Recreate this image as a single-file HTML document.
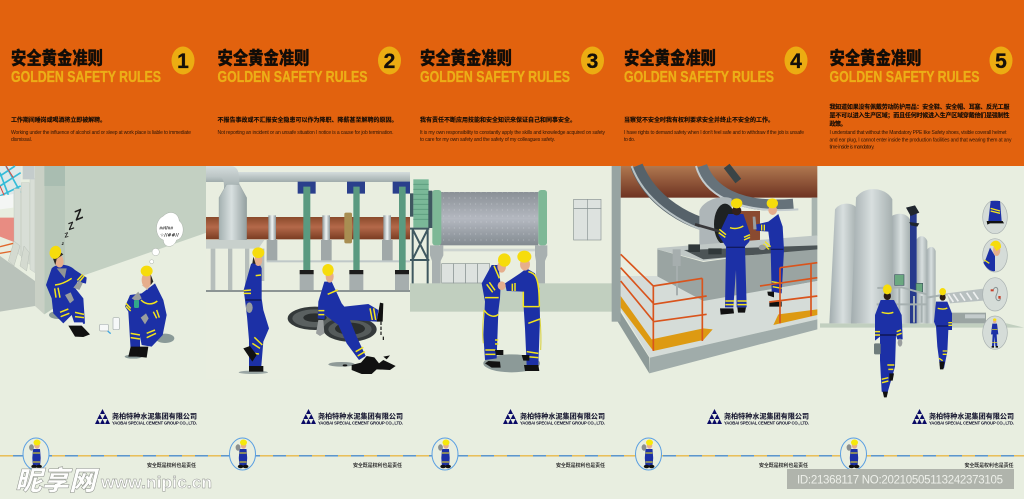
<!DOCTYPE html>
<html><head><meta charset="utf-8"><title>安全黄金准则 Golden Safety Rules</title>
<style>
html,body{margin:0;padding:0;width:1024px;height:499px;overflow:hidden;background:#e8eee0}
svg{display:block}
.t{font-family:"Liberation Sans","Noto Sans CJK SC",sans-serif;font-weight:900;font-size:18px;fill:#120d08;stroke:#120d08;stroke-width:.25}
.g{font-family:"Liberation Sans",sans-serif;font-weight:700;font-size:16px;fill:#ecae17;stroke:#ecae17;stroke-width:.35}
.n{font-family:"Liberation Sans",sans-serif;font-weight:700;font-size:21px;fill:#15100a;text-anchor:middle;stroke:#15100a;stroke-width:.3}
.c{font-family:"Liberation Sans","Noto Sans CJK SC",sans-serif;font-weight:700;font-size:6px;fill:#140c06;stroke:#140c06;stroke-width:.12}
.e{font-family:"Liberation Sans",sans-serif;font-size:5px;fill:#2a1408}
.l{font-family:"Liberation Sans","Noto Sans CJK SC",sans-serif;font-weight:700;font-size:7px;fill:#15152e;stroke:#15152e;stroke-width:.1}
.l2{font-family:"Liberation Sans",sans-serif;font-weight:700;font-size:4.3px;fill:#15152e}
.s{font-family:"Liberation Sans","Noto Sans CJK SC",sans-serif;font-size:5px;fill:#333;font-weight:700}
.blue{fill:#1c30a6}.y{stroke:#f3e41c;fill:none}.hel{fill:#f6dc0c}.skin{fill:#e6ae8c}.blk{fill:#111}.glv{fill:#9a9e9e}
</style></head><body>
<svg width="1024" height="499" viewBox="0 0 1024 499" xmlns="http://www.w3.org/2000/svg">
<defs>
<linearGradient id="pipeB" x1="0" y1="0" x2="0" y2="1"><stop offset="0" stop-color="#8a4a2c"/><stop offset=".45" stop-color="#b4694a"/><stop offset="1" stop-color="#7a3c22"/></linearGradient>
<linearGradient id="pipeG" x1="0" y1="0" x2="0" y2="1"><stop offset="0" stop-color="#d4dcdc"/><stop offset="1" stop-color="#a0acac"/></linearGradient>
<linearGradient id="hood" x1="0" y1="0" x2="1" y2="0"><stop offset="0" stop-color="#a4b0b0"/><stop offset=".45" stop-color="#d8e0e0"/><stop offset="1" stop-color="#94a0a0"/></linearGradient>
<linearGradient id="ring" x1="0" y1="0" x2="1" y2="0"><stop offset="0" stop-color="#8c9698"/><stop offset=".5" stop-color="#f0f4f4"/><stop offset="1" stop-color="#8c9698"/></linearGradient>
<linearGradient id="mill" x1="0" y1="0" x2="0" y2="1"><stop offset="0" stop-color="#8a9096"/><stop offset=".5" stop-color="#b4b8c0"/><stop offset="1" stop-color="#828a90"/></linearGradient>
<linearGradient id="kiln" x1="0" y1="0" x2="0" y2="1"><stop offset="0" stop-color="#b07850"/><stop offset="1" stop-color="#6e3322"/></linearGradient>
<linearGradient id="silo" x1="0" y1="0" x2="1" y2="0"><stop offset="0" stop-color="#a2acae"/><stop offset=".5" stop-color="#d8dfdf"/><stop offset="1" stop-color="#a6b0b0"/></linearGradient>
<pattern id="dots" width="16" height="18" patternUnits="userSpaceOnUse"><circle cx="5" cy="6" r="1.2" fill="#dfe3e6"/></pattern>
<g id="mini">
<path d="M-3.5-1 L3.5-1 L4.2 8 L3.6 15.5 H-3.6 L-4.2 8Z" fill="#1c30a6"/>
<ellipse cx="-5" cy="-2.5" rx="2.4" ry="3.2" fill="#8a8e8e"/>
<ellipse cx=".5" cy="-4.5" rx="2.8" ry="3.2" fill="#e6ae8c"/>
<ellipse cx=".5" cy="-7.5" rx="3.5" ry="3" fill="#f6e80c"/>
<path d="M-3.5 3H3.5M-3.5 12H3.5" stroke="#f3e41c" stroke-width=".9"/>
<ellipse cx="-2.4" cy="16.5" rx="2.8" ry="1.7" fill="#111"/><ellipse cx="2.6" cy="16.5" rx="2.8" ry="1.7" fill="#111"/>
</g>
<g id="logo" fill="#0a0a66">
<path d="M7.5 0L10 5H5Z"/><path d="M4.8 5L7.3 10H2.3Z"/><path d="M10.2 5L12.7 10H7.7Z"/><path d="M2.5 10L5 15H0Z"/><path d="M7.5 10L10 15H5Z"/><path d="M12.5 10L15 15H10Z"/>
<path d="M7.5 3L9 5H6Z"/>
</g>
</defs>

<rect width="1024" height="499" fill="#e8eee0"/>
<rect width="1024" height="166" fill="#e2620e"/>

<!-- HEADERS -->
<text class="t" x="11" y="64.5" textLength="92" lengthAdjust="spacingAndGlyphs">安全黄金准则</text>
<text class="g" x="11" y="82" textLength="150" lengthAdjust="spacingAndGlyphs">GOLDEN SAFETY RULES</text>
<ellipse cx="183" cy="60.5" rx="11.5" ry="14" fill="#ecac12"/><text class="n" x="183" y="68">1</text>
<text class="c" x="11" y="122" textLength="95">工作期间睡岗或喝酒将立即被解聘。</text>
<text class="e" x="11" y="134" textLength="180">Working under the influence of alcohol and or sleep at work place is liable to immediate</text>
<text class="e" x="11" y="141" textLength="21">dismissal.</text>

<text class="t" x="217.5" y="64.5" textLength="92" lengthAdjust="spacingAndGlyphs">安全黄金准则</text>
<text class="g" x="217.5" y="82" textLength="150" lengthAdjust="spacingAndGlyphs">GOLDEN SAFETY RULES</text>
<ellipse cx="389.5" cy="60.5" rx="11.5" ry="14" fill="#ecac12"/><text class="n" x="389.5" y="68">2</text>
<text class="c" x="217.5" y="122" textLength="180">不报告事故或不汇报安全隐患可以作为降职、降薪甚至解聘的原因。</text>
<text class="e" x="217.5" y="134" textLength="176">Not reporting an incident or an unsafe situation I notice is a cause for job termination.</text>

<text class="t" x="420" y="64.5" textLength="92" lengthAdjust="spacingAndGlyphs">安全黄金准则</text>
<text class="g" x="420" y="82" textLength="150" lengthAdjust="spacingAndGlyphs">GOLDEN SAFETY RULES</text>
<ellipse cx="592.5" cy="60.5" rx="11.5" ry="14" fill="#ecac12"/><text class="n" x="592.5" y="68">3</text>
<text class="c" x="420" y="122" textLength="156">我有责任不断应用技能和安全知识来保证自己和同事安全。</text>
<text class="e" x="420" y="134" textLength="185">It is my own responsibility to constantly apply the skills and knowledge acquired on safety</text>
<text class="e" x="420" y="141" textLength="135">to care for my own safety and the safety of my colleagues safety.</text>

<text class="t" x="624" y="64.5" textLength="92" lengthAdjust="spacingAndGlyphs">安全黄金准则</text>
<text class="g" x="624" y="82" textLength="150" lengthAdjust="spacingAndGlyphs">GOLDEN SAFETY RULES</text>
<ellipse cx="796" cy="60.5" rx="11.5" ry="14" fill="#ecac12"/><text class="n" x="796" y="68">4</text>
<text class="c" x="624" y="122" textLength="150">当察觉不安全时我有权利要求安全并终止不安全的工作。</text>
<text class="e" x="624" y="134" textLength="180">I have rights to demand safety when I don't feel safe and to withdraw if the job is unsafe</text>
<text class="e" x="624" y="141" textLength="11">to do.</text>

<text class="t" x="829.5" y="64.5" textLength="92" lengthAdjust="spacingAndGlyphs">安全黄金准则</text>
<text class="g" x="829.5" y="82" textLength="150" lengthAdjust="spacingAndGlyphs">GOLDEN SAFETY RULES</text>
<ellipse cx="1001" cy="60.5" rx="11.5" ry="14" fill="#ecac12"/><text class="n" x="1001" y="68">5</text>
<text class="c" x="829.5" y="109" textLength="180">我知道如果没有佩戴劳动防护用品：安全鞋、安全帽、耳塞、反光工服</text>
<text class="c" x="829.5" y="117.5" textLength="180">是不可以进入生产区域；而且任何时候进入生产区域穿戴他们是强制性</text>
<text class="c" x="829.5" y="126" textLength="17">政策。</text>
<text class="e" x="829.5" y="134" textLength="177">I understand that without the Mandatory PPE like Safety shoes, visible coverall helmet</text>
<text class="e" x="829.5" y="141.5" textLength="182">and ear plug, I cannot enter inside the production facilities and that wearing them at any</text>
<text class="e" x="829.5" y="148.5" textLength="45">time inside is mandatory.</text>

<!-- PANEL 1 + 2 -->
<g transform="translate(0,166) scale(.33333)">
  <path d="M0 270L105 345V420L0 437Z" fill="#b9c2ba"/>
  <path d="M0 0H62V100H0Z" fill="#dfe8e8"/>
  <path d="M0 30L45 0M0 60L62 20M0 90L62 60M18 0L62 80M0 20L30 100" stroke="#35bcd8" stroke-width="5" fill="none"/>
  <path d="M18 0L40 35M0 60L22 110" stroke="#d84a40" stroke-width="3"/>
  <path d="M0 90L40 84V125L0 130Z" fill="#f4f6f4"/>
  <path d="M0 155H42V228L0 212Z" fill="#e88c82"/>
  <path d="M0 242L40 232M0 262L40 255" stroke="#e0682c" stroke-width="4"/>
  <path d="M42 68H62V270L42 250ZM64 50H88V295L64 275ZM90 38H105V320L90 310Z" fill="#d8ded6" stroke="#b8c0b8"/>
  <path d="M25 285L42 225L60 240L42 300ZM60 300L72 240L88 260L80 315Z" fill="#d4dad0" stroke="#a8b0a8"/>
  <rect x="68" y="0" width="36" height="40" fill="#c4cccc"/>
  <path d="M195 0H620V200L260 325L195 345Z" fill="#c3d0c2"/>
  <path d="M105 0H133V445L105 420Z" fill="#c9d0c5"/>
  <path d="M133 0H195V405L133 445Z" fill="#b8c7ba"/>
  <rect x="133" y="0" width="62" height="60" fill="#a9bdb1"/>

  <g font-family="Liberation Sans,sans-serif" font-weight="700" fill="#1c1c1c" font-style="italic">
    <text x="222" y="160" font-size="42" transform="rotate(-22 236 145)">Z</text>
    <text x="203" y="190" font-size="30" transform="rotate(-20 212 178)">Z</text>
    <text x="193" y="214" font-size="20" transform="rotate(-15 199 207)">Z</text>
    <text x="185" y="237" font-size="14">z</text>
  </g>
  <g fill="#fff" stroke="#a8b0a8" stroke-width="1.5">
    <circle cx="455" cy="287" r="6"/><circle cx="467" cy="258" r="11"/>
    <path d="M490 150C510 130 535 140 538 165C558 180 550 220 530 222C520 250 490 245 490 222C465 215 460 165 490 150Z"/>
  </g>
  <text x="478" y="190" font-family="Liberation Sans,DejaVu Sans,sans-serif" font-size="15" font-weight="700" fill="#222">##//##</text>
  <text x="480" y="212" font-family="DejaVu Sans,sans-serif" font-size="14" font-weight="700" fill="#222">☆//##//</text>

  <!-- PANEL 2 background -->
  <rect x="618" y="0" width="612" height="640" fill="#e9eee0"/>
  <rect x="618" y="18" width="612" height="30" fill="url(#pipeG)"/>
  <path d="M618 0H690C715 0 718 20 718 50V70H672V60C672 40 665 30 650 30H618Z" fill="url(#pipeG)"/>
  <rect x="618" y="153" width="612" height="67" fill="url(#pipeB)"/>
  <path d="M657 95L680 55H718L740 95V230H657Z" fill="url(#hood)" stroke="#8c9898"/>
  <path d="M618 222H793L775 248H618Z" fill="#c8d0cc"/>
  <path d="M632 248H646V375H632ZM684 248H697V375H684ZM735 248H748V375H735ZM775 248H793V345H775Z" fill="#b6bebb"/>
  <rect x="805" y="148" width="23" height="74" fill="url(#ring)"/>
  <rect x="967" y="148" width="23" height="74" fill="url(#ring)"/>
  <rect x="1150" y="148" width="23" height="74" fill="url(#ring)"/>
  <rect x="1033" y="140" width="23" height="92" rx="5" fill="#a88e52"/>
  <path d="M800 222H832V285H800ZM963 222H995V285H963ZM1146 222H1178V285H1146Z" fill="#a0a8a8"/>
  <rect x="800" y="283" width="430" height="6" fill="#bfc8c8"/>
  <path d="M893 47H947V83H893ZM1041 47H1095V83H1041ZM1178 47H1230V83H1178Z" fill="#2a3f8c"/>
  <path d="M910 62H931V312H910ZM1060 62H1079V312H1060ZM1197 62H1217V312H1197Z" fill="#5a9a80"/>
  <path d="M899 312H941V325H899ZM1048 312H1090V325H1048ZM1185 312H1227V325H1185Z" fill="#1c1c1c"/>
  <path d="M899 325H941V375H899ZM1048 325H1090V375H1048ZM1185 325H1227V375H1185Z" fill="#a6aeae"/>
  <rect x="618" y="372" width="612" height="6" fill="#8c9494"/>
  <ellipse cx="945" cy="457" rx="82" ry="35" fill="#34393a"/>
  <ellipse cx="945" cy="457" rx="68" ry="27" fill="#5a6060"/><ellipse cx="945" cy="455" rx="35" ry="13" fill="#2a2e2e"/>
  <ellipse cx="1050" cy="490" rx="80" ry="37" fill="#34393a"/>
  <ellipse cx="1050" cy="490" rx="65" ry="28" fill="#555b5b"/><ellipse cx="1050" cy="488" rx="45" ry="18" fill="#2a2e2e"/>
</g>

<!-- Workers A + B (crop coordinates) -->
<g transform="translate(40,235) scale(.33333)">
  <ellipse cx="55" cy="240" rx="28" ry="12" fill="#8a9a98"/>
  <path d="M35 100C50 85 85 85 105 105L140 128L138 146L112 140L106 160L130 190L135 266L105 270L95 240L70 265L40 235L35 190L18 150Z" class="blue"/>
  <path d="M45 150C65 148 80 140 95 130M112 136L128 118M120 138L133 122M44 160L48 188M54 158L60 188M60 232L85 222M62 245L88 235M105 232L132 238M105 245L132 248" class="y" stroke-width="4.5"/>
  <path d="M50 100L74 130L80 100Z" fill="#8f9494"/>
  <path d="M100 158L118 135L128 145L118 165Z" class="glv"/>
  <path d="M75 180L92 172L102 195L90 205Z" class="glv"/>
  <path d="M90 262H128L132 275H88Z" fill="#eef0ee"/>
  <path d="M85 272H125L150 298L130 306L105 305Z" class="blk"/>
  <ellipse cx="56" cy="76" rx="14" ry="22" class="skin" transform="rotate(-15 56 76)"/>
  <path d="M38 68L62 52L70 58L50 72L46 90Z" fill="#2a2622"/>
  <ellipse cx="46" cy="52" rx="17" ry="20" class="hel" transform="rotate(20 46 52)"/>

  <ellipse cx="375" cy="310" rx="28" ry="14" fill="#8a9a98"/>
  <ellipse cx="280" cy="365" rx="26" ry="6" fill="#8a9a98"/>
  <path d="M305 175L345 145L370 195L380 240L368 300L335 335L305 330L300 305L300 345L272 345L265 230L255 215L270 180Z" class="blue"/>
  <path d="M303 195C320 212 340 208 352 198M258 205L272 220M258 214L272 228M340 230L350 250M350 225L358 248M272 295L300 300M272 308L300 312M320 295L345 285M320 308L348 295" class="y" stroke-width="4.5"/>
  <path d="M275 190L295 170L305 190L290 200Z" class="glv"/>
  <rect x="282" y="195" width="15" height="24" rx="4" fill="#32a88a"/>
  <path d="M302 248L318 235L326 250L315 268Z" class="glv"/>
  <path d="M272 335H300L295 365H265Z" class="blk"/><path d="M298 335H325L320 368L292 365Z" class="blk"/>
  <path d="M305 150L322 165L335 145Z" fill="#d8c0a8"/>
  <ellipse cx="320" cy="135" rx="15" ry="23" class="skin"/>
  <path d="M332 118L340 140L332 150Z" fill="#2a2622"/>
  <ellipse cx="320" cy="108" rx="18" ry="16" class="hel"/>
  <!-- cups -->
  <rect x="219" y="248" width="19" height="36" rx="3" fill="#f6f8f8" stroke="#a8b0b0" stroke-width="2"/>
  <rect x="179" y="268" width="26" height="20" rx="3" fill="#f6f8f8" stroke="#a8b0b0" stroke-width="2"/>
  <path d="M203 288L212 296" stroke="#3fa6e0" stroke-width="4"/>
</g>

<!-- Workers C + D -->
<g transform="translate(235,240) scale(.33333)">
  <ellipse cx="55" cy="397" rx="44" ry="5" fill="#9aa6a4"/>
  <path d="M48 72C60 62 75 70 80 85L80 175L85 210L102 265L85 305L78 390H42L42 300L36 230L30 180L26 150Z" class="blue"/>
  <path d="M62 107L78 105M26 152L48 150M26 160L48 160M52 310L75 325M58 292L82 315M58 340L72 342" class="y" stroke-width="4.5"/>
  <path d="M32 180H78" stroke="#111a60" stroke-width="5"/>
  <ellipse cx="43" cy="203" rx="10" ry="16" class="glv"/>
  <path d="M25 325L45 318L65 345L52 365Z" class="blk"/>
  <path d="M42 378H85V395H42Z" class="blk"/>
  <ellipse cx="70" cy="60" rx="12" ry="18" class="skin"/>
  <path d="M55 50L62 72L52 70Z" fill="#2a2622"/>
  <ellipse cx="70" cy="38" rx="18" ry="16" class="hel"/>

  <ellipse cx="320" cy="373" rx="40" ry="7" fill="#8f9a98"/>
  <path d="M268 125L290 125L320 190L328 200L400 192L430 210L425 245L345 240L365 290L392 348L372 360L335 310L310 255L270 225L268 238L248 235L250 185Z" class="blue"/>
  <path d="M278 163L308 150M250 212H268M250 224H268M405 205L412 240M416 205L422 240M362 335L385 322M368 348L390 335" class="y" stroke-width="4.5"/>
  <path d="M425 245L435 188L445 190L443 245Z" class="blk"/>
  <path d="M438 245V285M445 290V305" stroke="#111" stroke-width="3.5" stroke-dasharray="10 5"/>
  <path d="M250 240H265L268 280L255 288L243 280Z" class="glv"/>
  <ellipse cx="284" cy="110" rx="12" ry="18" class="skin"/>
  <ellipse cx="279" cy="90" rx="17" ry="18" class="hel"/>
  <path d="M350 375L378 368L395 348L418 352L432 370L445 360L482 378L465 390L425 388L410 402H380L350 390Z" class="blk"/>
  <path d="M445 350L465 346L455 358Z" class="blk"/><ellipse cx="330" cy="376" rx="7" ry="3" class="blk"/>
</g>

<!-- PANEL 3 + 4 -->
<g transform="translate(410,166) scale(.33333)">
  <rect x="0" y="0" width="605" height="352" fill="#e9eee0"/>
  <rect x="0" y="352" width="606" height="85" fill="#c1cfbf"/>
  <rect x="90" y="78" width="295" height="160" fill="url(#mill)"/>
  <rect x="90" y="78" width="295" height="160" fill="url(#dots)"/>
  <rect x="67" y="72" width="27" height="166" rx="8" fill="#7eb896"/>
  <rect x="385" y="72" width="26" height="166" rx="8" fill="#7eb896"/>
  <rect x="10" y="40" width="46" height="145" fill="#7ab898"/>
  <path d="M10 55H56M10 70H56M10 85H56M10 100H56M10 115H56M10 130H56M10 145H56M10 160H56" stroke="#5f9f80" stroke-width="3"/>
  <rect x="55" y="74" width="12" height="112" fill="#3f5860"/>
  <rect x="0" y="82" width="10" height="70" fill="#3f5860"/>
  <path d="M0 188H58M0 282H58M8 188V352M53 188V352M8 190L53 280M53 190L8 280" stroke="#3f5860" stroke-width="6" fill="none"/>
  <path d="M60 238H100V268L92 285V352H66V285L60 268ZM375 238H412V268L405 285V352H378V285L375 268Z" fill="#a8b0b0"/>
  <rect x="100" y="248" width="275" height="8" fill="#cdd4d0"/>
  <g fill="#dde2df" stroke="#8a9494" stroke-width="2">
    <rect x="95" y="293" width="36" height="58"/><rect x="131" y="293" width="36" height="58"/><rect x="167" y="293" width="36" height="58"/><rect x="203" y="293" width="36" height="58"/>
    <rect x="491" y="100" width="41" height="28"/><rect x="532" y="100" width="41" height="28"/><rect x="491" y="128" width="41" height="94"/><rect x="532" y="128" width="41" height="94"/>
  </g>

  <!-- PANEL 4 -->
  <rect x="632" y="95" width="590" height="240" fill="#e9eee0"/>
  <rect x="632" y="0" width="590" height="95" fill="url(#kiln)"/>
  <path d="M965 135H1050V245H965Z" fill="#8a4a30"/>
  <path d="M680 0C720 100 830 180 965 192" stroke="#56626a" stroke-width="38" fill="none"/>
  <path d="M665 0C705 110 830 195 965 212" stroke="#b8c2c4" stroke-width="6" fill="none"/>
  <path d="M875 0C900 70 980 130 1150 115" stroke="#66727a" stroke-width="34" fill="none"/>
  <path d="M858 0C880 80 975 145 1165 130" stroke="#c4ccce" stroke-width="6" fill="none"/>
  <path d="M950 0L985 45" stroke="#3a4446" stroke-width="22"/>
  <path d="M868 245V135C880 100 940 85 965 98L968 245Z" fill="#aeb6b8"/>
  <ellipse cx="945" cy="175" rx="33" ry="62" fill="#1e2222"/>
  <rect x="1205" y="95" width="17" height="115" fill="#a8b4b0"/>
  <path d="M742 246L1222 208V240L880 285L742 250Z" fill="#c0c8c6"/>
  <path d="M742 250L880 288L1222 240V345L880 408L742 345Z" fill="#9aa4a2"/>
  <path d="M822 252L1222 238V250L880 280Z" fill="#4c5456"/>
  <path d="M835 235H870V258H835ZM895 247H935V265H895Z" fill="#30383a"/>
  <path d="M855 175L960 205" stroke="#39383a" stroke-width="8"/>
  <path d="M632 330H740L880 405L1222 345V460L720 575L632 430Z" fill="#d5dcd8"/>
  <path d="M632 390L725 520L880 487L908 490L880 522L730 555L632 425Z" fill="#dd9a12"/>
  <path d="M1090 477L1105 445L1222 430V447Z" fill="#dd9a12"/>
  <path d="M720 575L1222 460V490L718 622Z" fill="#a0acaa"/>
  <path d="M620 420L718 575V622L620 462Z" fill="#8d9a98"/>
  <rect x="605" y="0" width="27" height="467" fill="#97a4a2"/>
  <rect x="788" y="250" width="24" height="50" fill="#a6aeae"/><rect x="798" y="300" width="6" height="88" fill="#a6aeae"/>
</g>

<!-- Harness workers -->
<g transform="translate(470,245) scale(.33333)">
  <ellipse cx="125" cy="355" rx="85" ry="27" fill="#8c9a98"/>
  <path d="M65 60L85 60L92 120L90 160L85 200L80 340L45 345L40 270L45 170L35 115Z" class="blue"/>
  <path d="M72 62L88 100M50 118L68 142M58 112L75 136M45 158H86M42 195C55 215 75 218 85 208M46 315H76M46 328H76M75 285H85M75 297H85" class="y" stroke-width="4.5"/>
  <path d="M42 195C38 235 36 265 40 295" stroke="#d8d038" stroke-width="3" fill="none"/>
  <path d="M55 348L90 350L92 368L65 368L45 355Z" class="blk"/>
  <path d="M75 315H100V330H78Z" class="blk"/>
  <ellipse cx="95" cy="65" rx="13" ry="18" class="skin"/>
  <ellipse cx="103" cy="45" rx="19" ry="20" class="hel"/>
  <path d="M170 70L195 85L208 130L210 220L205 362H170L165 250L158 140L110 138L105 115L150 85Z" class="blue"/>
  <path d="M127 116V138M135 114V138M175 80C198 85 208 100 208 185M160 140V185H208M175 235L210 222M170 320L205 325M170 335L205 338" class="y" stroke-width="4.5"/>
  <path d="M210 220C213 255 214 280 212 315" stroke="#d8d038" stroke-width="3" fill="none"/>
  <ellipse cx="95" cy="122" rx="12" ry="13" class="skin"/>
  <path d="M162 360H205L208 378H165Z" class="blk"/><path d="M155 330H178V347H160Z" class="blk"/>
  <ellipse cx="165" cy="58" rx="15" ry="19" class="skin"/>
  <ellipse cx="163" cy="35" rx="21" ry="18" class="hel"/>
</g>

<!-- Panel 4 workers + rails -->
<g transform="translate(700,190) scale(.33333)">
  <path d="M85 72L130 72L150 130L148 155L135 170L140 352H110L108 240L100 352H75L78 170L55 135Z" class="blue"/>
  <path d="M90 113C105 118 118 115 130 108M58 118L78 134M56 128L76 142M132 142L150 134M132 150L150 142M76 333H102M76 344H102M112 333H140M112 344H140" class="y" stroke-width="4.5"/>
  <path d="M80 172H134" stroke="#111a60" stroke-width="4"/>
  <path d="M60 355H100L102 370L62 374ZM112 352H138L135 368H114Z" class="blk"/>
  <ellipse cx="110" cy="62" rx="14" ry="14" fill="#33211a"/>
  <ellipse cx="110" cy="40" rx="17" ry="15" class="hel"/>
  <path d="M205 95L235 72L248 110L252 180L245 310L215 305L212 180L205 125L168 122L162 105Z" class="blue"/>
  <path d="M185 104V122M193 104V122M195 155L212 170M190 162L207 178M215 275L245 280M218 290L245 295" class="y" stroke-width="4"/>
  <path d="M212 178H250" stroke="#111a60" stroke-width="4"/>
  <path d="M158 80L166 80L170 118H160Z" class="glv"/>
  <ellipse cx="187" cy="172" rx="11" ry="8" class="glv"/>
  <path d="M202 305H222V322L204 316ZM208 335H245V350H208Z" class="blk"/>
  <ellipse cx="218" cy="60" rx="13" ry="15" class="skin"/>
  <ellipse cx="217" cy="40" rx="17" ry="15" class="hel"/>
</g>
<g transform="translate(410,166) scale(.33333)">
  <g stroke="#d9541c" stroke-width="5" fill="none">
    <path d="M632 265L730 360M632 305L730 412M632 345L730 465"/>
    <path d="M730 360V555M877 337V525M730 360L877 337M730 415L890 390M730 467L890 445"/>
    <path d="M1110 305L1222 290M1050 360L1222 335M1078 408L1222 390M1110 305V472M1203 295V450"/>
  </g>
</g>

<!-- PANEL 5 -->
<g transform="translate(820,166) scale(.33333)">
  <path d="M0 472H560L612 485H0Z" fill="#c1cfbf"/>
  <path d="M28 472L45 130C60 108 95 108 110 125V472Z" fill="url(#silo)"/>
  <path d="M215 472V150C235 138 260 142 270 160V472Z" fill="url(#silo)"/>
  <path d="M290 472V220C300 205 315 208 322 225V472Z" fill="url(#silo)"/>
  <path d="M320 472V252C330 238 342 240 347 255V472Z" fill="url(#silo)"/>
  <path d="M93 472L108 95C130 60 195 60 217 100V472Z" fill="url(#silo)"/>
  <rect x="270" y="140" width="20" height="332" fill="#26398c"/>
  <path d="M258 125L285 118L298 140L272 150ZM268 168L298 172L292 182L272 178Z" fill="#20262e"/>
  <rect x="224" y="326" width="28" height="32" fill="#6aa880" stroke="#3f5860" stroke-width="2"/>
  <rect x="288" y="352" width="20" height="26" fill="#6aa880" stroke="#3f5860" stroke-width="2"/>
  <g stroke="#a6b0b0" stroke-width="6" fill="none">
    <path d="M172 366L245 364L320 385M238 364V470M170 415H320M282 390V470M305 390V470M320 395L380 385"/>
  </g>
  <path d="M380 382L490 368V404L390 412Z" fill="#b8c0c0"/>
  <path d="M385 385L400 408M400 384L415 406M420 382L435 404M440 380L455 402M460 378L475 400" stroke="#eef0f0" stroke-width="5"/>
  <rect x="395" y="440" width="103" height="32" fill="#9aa4a2"/>
  <rect x="435" y="445" width="60" height="12" fill="#c4cccc"/>
  <g fill="#d5dcd8" stroke="#a8b0b0" stroke-width="2">
    <ellipse cx="525" cy="153" rx="37" ry="50"/><ellipse cx="525" cy="268" rx="37" ry="50"/><ellipse cx="525" cy="385" rx="37" ry="50"/><ellipse cx="525" cy="500" rx="37" ry="50"/>
  </g>
  <path d="M512 105H540L545 165H505Z" class="blue"/>
  <path d="M512 127L540 135M512 135L540 142" class="y" stroke-width="4"/>
  <path d="M500 165H548L552 172H510L502 176Z" class="blk"/>
  <path d="M495 285L510 245L525 270L525 315C515 318 500 310 490 290Z" class="blue"/>
  <path d="M493 282L508 292" class="y" stroke-width="4"/>
  <ellipse cx="530" cy="252" rx="11" ry="18" class="skin"/>
  <path d="M510 238C520 215 545 222 543 245L530 255L520 240Z" class="hel"/>
  <path d="M518 375C525 355 540 365 530 385C520 405 545 410 540 395" stroke="#8a9494" stroke-width="3" fill="none"/>
  <rect x="512" y="370" width="9" height="6" fill="#c8402a"/><rect x="535" y="390" width="7" height="8" fill="#c8402a"/>
  <path d="M517 473H531L535 505H530L532 540H526L524 512L522 540H516L518 505H513Z" class="blue"/>
  <ellipse cx="524" cy="466" rx="5" ry="5" class="skin"/><ellipse cx="524" cy="461" rx="5" ry="4" class="hel"/>
  <path d="M516 490H532M516 530H532" class="y" stroke-width="2"/>
  <path d="M515 540H522V545H515ZM527 540H534V545H527Z" class="blk"/>
</g>
<!-- Panel 5 workers -->
<g transform="translate(860,280) scale(.33333)">
  <path d="M62 60L102 60L125 105L128 178L112 178L108 165L105 260L95 295L82 340L65 335L60 240L60 170L45 182L45 105Z" class="blue"/>
  <path d="M65 97C78 101 90 101 100 97M45 155H60M45 165H60M110 155L123 150M110 165L125 160M82 255H103M85 268H100M65 298L85 293M66 308L85 303" class="y" stroke-width="4.5"/>
  <path d="M60 165H108" stroke="#111a60" stroke-width="5"/>
  <rect x="42" y="190" width="20" height="33" rx="4" fill="#6e7c7c"/>
  <ellipse cx="120" cy="188" rx="7" ry="12" class="glv"/>
  <path d="M68 335H84L80 352H72ZM88 280H102L98 302H88Z" class="blk"/>
  <ellipse cx="82" cy="48" rx="11" ry="12" fill="#2a1c14"/>
  <ellipse cx="82" cy="28" rx="13" ry="15" class="hel"/>
  <path d="M228 65L262 65L276 100L276 150L265 150L262 215L252 265L240 260L232 200L228 140L222 125Z" class="blue"/>
  <path d="M233 85C245 88 255 88 262 84M265 128H276M265 136H276M248 213H262M248 223H260M237 235L248 242" class="y" stroke-width="4"/>
  <path d="M230 138H265" stroke="#111a60" stroke-width="4"/>
  <path d="M238 245H254L250 268H240Z" class="blk"/>
  <ellipse cx="248" cy="52" rx="9" ry="10" fill="#2a1c14"/>
  <ellipse cx="248" cy="35" rx="10" ry="11" class="hel"/>
</g>

<!-- LOGOS -->
<use href="#logo" x="95" y="409"/><use href="#logo" x="301" y="409"/><use href="#logo" x="503" y="409"/><use href="#logo" x="707" y="409"/><use href="#logo" x="912" y="409"/>
<g>
<text class="l" x="112" y="418.5" textLength="85">尧柏特种水泥集团有限公司</text>
<text class="l2" x="112" y="424.5" textLength="85">YAOBAI SPECIAL CEMENT GROUP CO., LTD.</text>
<text class="l" x="318" y="418.5" textLength="85">尧柏特种水泥集团有限公司</text>
<text class="l2" x="318" y="424.5" textLength="85">YAOBAI SPECIAL CEMENT GROUP CO., LTD.</text>
<text class="l" x="520" y="418.5" textLength="85">尧柏特种水泥集团有限公司</text>
<text class="l2" x="520" y="424.5" textLength="85">YAOBAI SPECIAL CEMENT GROUP CO., LTD.</text>
<text class="l" x="724" y="418.5" textLength="85">尧柏特种水泥集团有限公司</text>
<text class="l2" x="724" y="424.5" textLength="85">YAOBAI SPECIAL CEMENT GROUP CO., LTD.</text>
<text class="l" x="929" y="418.5" textLength="85">尧柏特种水泥集团有限公司</text>
<text class="l2" x="929" y="424.5" textLength="85">YAOBAI SPECIAL CEMENT GROUP CO., LTD.</text>
</g>

<!-- DASH LINE -->
<line x1="0" y1="455.8" x2="1024" y2="455.8" stroke="#e8b84a" stroke-width="1.4"/>
<line x1="13" y1="455.8" x2="1024" y2="455.8" stroke="#4a90d8" stroke-width="1.4" stroke-dasharray="13 13"/>

<!-- MINI CIRCLES -->
<g fill="#e8eee0" stroke="#5a9fe2" stroke-width="1">
<ellipse cx="36" cy="454" rx="13" ry="16"/><ellipse cx="242.5" cy="454" rx="13" ry="16"/><ellipse cx="445" cy="454" rx="13" ry="16"/><ellipse cx="648.5" cy="454" rx="13" ry="16"/><ellipse cx="853.5" cy="454" rx="13" ry="16"/>
</g>
<use href="#mini" x="36.5" y="450"/><use href="#mini" x="243" y="450"/><use href="#mini" x="445.5" y="450"/><use href="#mini" x="649" y="450"/><use href="#mini" x="854" y="450"/>

<!-- SLOGAN -->
<text class="s" x="147" y="467" textLength="49">安全既是权利也是责任</text>
<text class="s" x="353" y="467" textLength="49">安全既是权利也是责任</text>
<text class="s" x="556" y="467" textLength="49">安全既是权利也是责任</text>
<text class="s" x="759" y="467" textLength="49">安全既是权利也是责任</text>
<text class="s" x="964.5" y="467" textLength="49">安全既是权利也是责任</text>

<!-- WATERMARKS -->
<text x="15" y="490" font-family="Liberation Sans,Noto Sans CJK SC,sans-serif" font-weight="900" font-size="27" font-style="italic" fill="#fff" fill-opacity=".92" stroke="#8a8e88" stroke-width=".5" textLength="81" lengthAdjust="spacingAndGlyphs">昵享网</text>
<text x="101" y="488" font-family="Liberation Sans,sans-serif" font-weight="700" font-size="17" fill="#fff" fill-opacity=".92" stroke="#8a8e88" stroke-width=".4" textLength="111" lengthAdjust="spacingAndGlyphs">www.nipic.cn</text>
<rect x="787" y="469" width="227" height="20" fill="#b0b4ac"/>
<text x="797" y="483.5" font-family="Liberation Sans,sans-serif" font-size="11.5" fill="#eef0ea" textLength="206">ID:21368117 NO:20210505113242373105</text>
</svg>
</body></html>
